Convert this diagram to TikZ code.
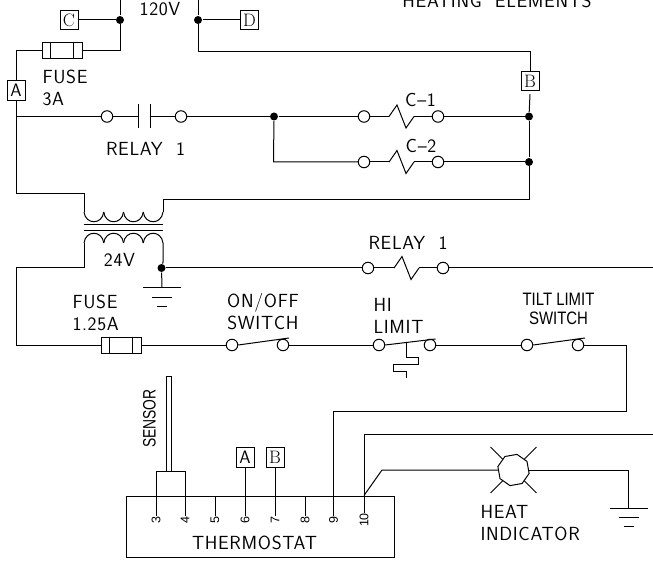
\documentclass[tikz,border=0pt]{standalone}
\usepackage{fontspec}
\newfontfamily\plainfont{Liberation Sans}
\newfontfamily\cadfont[LetterSpace=3.5]{Latin Modern Sans}
\usetikzlibrary{shapes.geometric}
\tikzset{
	wire/.style={line width=1pt},
	cadtext/.style={inner sep=0pt, font=\fontsize{19}{22}\cadfont},
	plaintext/.style={inner sep=0pt, font=\fontsize{18}{19}\plainfont},
	terminal/.style={draw, circle, fill=white, line width=1pt, minimum size=11.5pt, inner sep=0pt},
	junction/.style={circle, fill=black, minimum size=8pt, inner sep=0pt},
	tagbox/.style={draw, line width=1pt, minimum width=18pt, minimum height=19.5pt, inner sep=0pt, font=\fontsize{18}{18}\selectfont},
	fusebox/.style={draw, line width=1pt, minimum width=40pt, minimum height=16pt, inner sep=0pt},
	pinlabel/.style={rotate=90, inner sep=0pt, font=\fontsize{12.5}{12.5}\plainfont},
}
\begin{document}
\begin{tikzpicture}[x=1pt, y=-1pt, wire]
	\useasboundingbox (0,0) rectangle (653,561);

	\node[cadtext] (lblsupply) at (160,9) {120V};
	\node[cadtext] (lblheat) at (497,.5) {HEATING\ \ ELEMENTS};

	% line side
	\coordinate (lineL) at (120,0);
	\coordinate (lineR) at (198,0);
	\node[junction] (dotL) at (120,20) {};
	\node[junction] (dotR) at (198,20) {};
	\node[tagbox] (tagC) at (69,20) {C};
	\node[tagbox] (tagD) at (249.5,20) {D};
	\node[tagbox, font=\fontsize{18}{18}\sffamily] (tagA) at (16,90.5) {A};
	\node[tagbox] (tagB) at (530,81) {B};
	\node[fusebox] (fuseA) at (62,51) {};
	\draw (fuseA.north west) ++(9,0) -- ++(0,16);
	\draw (fuseA.north east) ++(-9,0) -- ++(0,16);
	\node[cadtext, align=left, anchor=west] (lblfuseA) at (42,87.5) {FUSE\\3A};

	\draw (lineL) -- (dotL);
	\draw (dotL) -- (120,51) -- (fuseA.east);
	\draw (fuseA.west) -- (16,51) -- (tagA.north);
	\draw (lineR) -- (dotR);
	\draw (dotR) -- (198,51.5) -- (530,51.5) -- (tagB.north);
	\draw (tagC.east) -- (dotL);
	\draw (dotR) -- (tagD.west);

	% relay contact and the two elements
	\node[terminal] (contactL) at (107,116.5) {};
	\node[terminal] (contactR) at (181,116.5) {};
	\coordinate (plateL) at (138,116.5);
	\coordinate (plateR) at (150.5,116.5);
	\draw (plateL) ++(0,-12) -- ++(0,24);
	\draw (plateR) ++(0,-12) -- ++(0,24);
	\coordinate (railA) at (16,116.5);
	\draw (tagA.south) -- (railA) -- (contactL.west);
	\draw (contactL) -- (plateL);
	\draw (plateR) -- (contactR);
	\node[cadtext] (lblrelayA) at (145.5,148.5) {RELAY\ \ 1};

	\node[junction] (dotM) at (274,116.5) {};
	\draw (contactR) -- (dotM);
	\node[junction] (dotC) at (529,116.5) {};
	\node[junction] (dotE) at (529,162) {};
	\draw (tagB.south) ++(0,3) -- (dotC);
	\draw (dotC) -- (dotE);

	\foreach \coil/\cx/\cy in {cA/389/116.5, cB/389/162, cR/394/268} {
		\begin{scope}[shift={(\cx,\cy)}]
			\coordinate (\coil in) at (0,0);
			\coordinate (\coil out) at (25,0);
			\draw (\coil in) -- (8,-11.5) -- (17,11.5) -- (\coil out);
		\end{scope}
	}

	\node[terminal] (t1L) at (364,116.5) {};
	\node[terminal] (t1R) at (438,116.5) {};
	\node[terminal] (t2L) at (364,162) {};
	\node[terminal] (t2R) at (438,162) {};
	\draw (dotM) -- (t1L);
	\draw (t1L) -- (cAin);
	\draw (cAout) -- (t1R);
	\draw (t1R) -- (dotC);
	\draw (dotM) -- (273.5,162) -- (t2L.west);
	\draw (t2L) -- (cBin);
	\draw (cBout) -- (t2R);
	\draw (t2R) -- (dotE);
	\node[cadtext] (lblC1) at (420.5,99.5) {C–1};
	\node[cadtext] (lblC2) at (421,145.5) {C–2};

	% transformer
	\coordinate (priL) at (84,212);
	\coordinate (priR) at (163,212);
	\coordinate (secL) at (84,243);
	\coordinate (secR) at (163,243);
	\foreach \bump in {84,103.75,123.5,143.25} {
		\draw (\bump,212) .. controls +(1.5,13) and +(-1.5,13) .. +(19.75,0);
		\draw (\bump,243) .. controls +(1.5,-13) and +(-1.5,-13) .. +(19.75,0);
	}
	\coordinate (coreL) at (84,225);
	\coordinate (coreR) at (163,225);
	\coordinate (coreL2) at (84,230.5);
	\coordinate (coreR2) at (163,230.5);
	\draw (coreL) -- (coreR);
	\draw (coreL2) -- (coreR2);
	\node[cadtext] (lblsec) at (119.5,260) {24V};

	\draw (railA) -- (16,193.5) -- (84,193.5) -- (priL);
	\draw (dotE) -- (529,200) -- (163,200) -- (priR);

	% 24V side
	\node[junction] (dotS) at (161.5,268) {};
	\draw (secR) -- (163,262) -- (dotS);
	\node[terminal] (tRL) at (368,268) {};
	\node[terminal] (tRR) at (443,268) {};
	\coordinate (outR) at (653,268);
	\draw (dotS) -- (tRL);
	\draw (tRL) -- (cRin);
	\draw (cRout) -- (tRR);
	\draw (tRR) -- (outR);
	\node[cadtext] (lblrelayB) at (408,242.5) {RELAY\ \ 1};

	\foreach \earth/\ex/\ey in {gS/162/288, gH/628.5/508} {
		\begin{scope}[shift={(\ex,\ey)}]
			\coordinate (\earth top) at (0,0);
			\draw (-19,0) -- (19,0);
			\draw (-10,9.5) -- (10,9.5);
			\draw (-5,18.5) -- (5,18.5);
		\end{scope}
	}
	\draw (dotS) -- (gStop);

	% control string
	\node[fusebox] (fuseB) at (121,345) {};
	\draw (fuseB.north west) ++(9,0) -- ++(0,16);
	\draw (fuseB.north east) ++(-9,0) -- ++(0,16);
	\node[cadtext, align=left, anchor=west] (lblfuseB) at (72,313) {FUSE\\1.25A};
	\draw (secL) -- (84,268) -- (16,268) -- (16,345) -- (fuseB.west);

	\node[terminal] (onL) at (232,345) {};
	\node[terminal] (onR) at (283,345) {};
	\node[terminal] (hiL) at (379,345) {};
	\node[terminal] (hiR) at (430,345) {};
	\node[terminal] (tiltL) at (527,345) {};
	\node[terminal] (tiltR) at (578,345) {};
	\draw (fuseB.east) -- (onL.west);
	\draw (onR) -- (hiL);
	\draw (hiR) -- (tiltL);
	\draw (onL.east) -- (289,338);
	\draw (hiL.east) -- (435.5,339);
	\draw (tiltL.east) -- (585,338);
	\draw (406,342) -- (406,357) -- (418,357) -- (418,364) -- (393,364) -- (393,371) -- (406,371) -- (406,378);
	\node[cadtext, align=center] (lblonoff) at (263,312) {ON/OFF\\SWITCH};
	\node[cadtext, align=left, anchor=west] (lblhi) at (373,316) {HI\\LIMIT};
	\node[plaintext, align=center, xscale=.83] (lbltilt) at (558.5,308.5) {TILT LIMIT\\SWITCH};

	% thermostat
	\draw (126,496) rectangle (394,557);
	\node[cadtext] (lblthermo) at (254.5,543) {THERMOSTAT};
	\foreach \n/\x in {3/156,4/185,5/215,6/245,7/275,8/305,9/333.5,10/364} {
		\node[pinlabel] (pin\n) at (\x,520) {\n};
	}
	\draw (215,496) -- (pin5.east);
	\draw (305,496) -- (pin8.east);

	\node[tagbox, font=\fontsize{18}{18}\sffamily] (tagA2) at (245,457.5) {A};
	\node[tagbox] (tagB2) at (275,457.5) {B};
	\draw (tagA2.south) -- (pin6.east);
	\draw (tagB2.south) -- (pin7.east);

	\draw (pin3.east) -- (156,471.5) -- (185,471.5) -- (pin4.east);
	\draw (166,471.5) rectangle (171.5,376);
	\node[plaintext, rotate=90, xscale=.77] (lblsensor) at (149.5,418.5) {SENSOR};

	\coordinate (outT) at (653,434);
	\draw (tiltR) -- (626.5,345) -- (626.5,411) -- (333.5,411) -- (pin9.east);
	\draw (pin10.east) -- (364,434) -- (outT);

	% heat indicator
	\node[draw, regular polygon, regular polygon sides=8, shape border rotate=10, minimum size=32pt, inner sep=0pt] (lamp) at (513.5,470) {};
	\draw (lamp.45) -- +(12,-12);
	\draw (lamp.135) -- +(-12,-12);
	\draw (lamp.225) -- +(-12,12);
	\draw (lamp.315) -- +(12,12);
	\draw (364,495.5) -- (382,470) -- (lamp.west);
	\draw (lamp.east) -- (628.5,470) -- (gHtop);
	\node[cadtext, align=left, anchor=west] (lblheatind) at (480,523) {HEAT\\INDICATOR};
\end{tikzpicture}
\end{document}
